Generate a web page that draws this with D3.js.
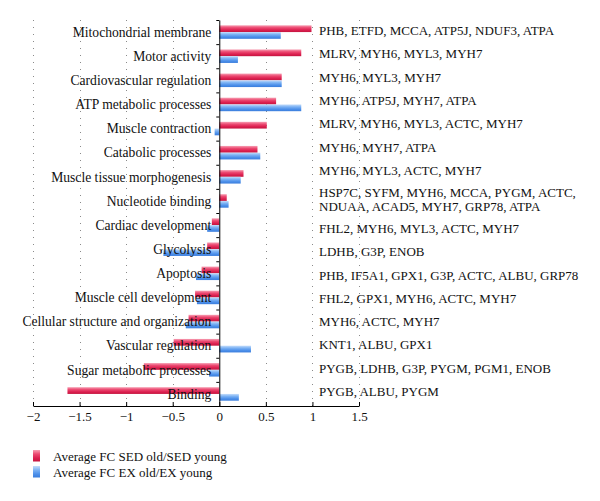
<!DOCTYPE html>
<html>
<head>
<meta charset="utf-8">
<script src="https://cdn.jsdelivr.net/npm/d3@7"></script>
<style>
  html, body { margin: 0; padding: 0; background: #fff; }
  svg { display: block; }
  text { font-family: "Liberation Serif", "DejaVu Serif", serif; fill: #111; }
</style>
</head>
<body>
<svg id="chart" width="600" height="501"></svg>
<script>
// ---- data ----
const categories = [
  "Mitochondrial membrane", "Motor activity", "Cardiovascular regulation",
  "ATP metabolic processes", "Muscle contraction", "Catabolic processes",
  "Muscle tissue morphogenesis", "Nucleotide binding", "Cardiac development",
  "Glycolysis", "Apoptosis", "Muscle cell development",
  "Cellular structure and organization", "Vascular regulation",
  "Sugar metabolic processes", "Binding"
];
const sedValues = [0.99, 0.88, 0.67, 0.61, 0.51, 0.41, 0.26, 0.08, -0.08, -0.13, -0.19, -0.26, -0.33, -0.49, -0.81, -1.63];
const exValues  = [0.66, 0.20, 0.67, 0.88, -0.05, 0.44, 0.23, 0.10, -0.13, -0.60, -0.25, -0.24, -0.36, 0.34, -0.11, 0.21];
const geneLabels = [
  ["PHB, ETFD, MCCA, ATP5J, NDUF3, ATPA"],
  ["MLRV, MYH6, MYL3, MYH7"],
  ["MYH6, MYL3, MYH7"],
  ["MYH6, ATP5J, MYH7, ATPA"],
  ["MLRV, MYH6, MYL3, ACTC, MYH7"],
  ["MYH6, MYH7, ATPA"],
  ["MYH6, MYL3, ACTC, MYH7"],
  ["HSP7C, SYFM, MYH6, MCCA, PYGM, ACTC,", "NDUAA, ACAD5, MYH7, GRP78, ATPA"],
  ["FHL2, MYH6, MYL3, ACTC, MYH7"],
  ["LDHB, G3P, ENOB"],
  ["PHB, IF5A1, GPX1, G3P, ACTC, ALBU, GRP78"],
  ["FHL2, GPX1, MYH6, ACTC, MYH7"],
  ["MYH6, ACTC, MYH7"],
  ["KNT1, ALBU, GPX1"],
  ["PYGB, LDHB, G3P, PYGM, PGM1, ENOB"],
  ["PYGB, ALBU, PYGM"]
];
const xTickValues = [-2, -1.5, -1, -0.5, 0, 0.5, 1, 1.5];
const xTickLabels = ["\u22122", "\u22121.5", "\u22121", "\u22120.5", "0", "0.5", "1", "1.5"];
const seriesNames = ["Average FC SED old/SED young", "Average FC EX old/EX young"];

// ---- layout ----
const svg = d3.select("#chart");
const plotTop = 20, plotBottom = 406;
const x = d3.scaleLinear().domain([-2, 1.5]).range([33, 359]);
const y = d3.scaleBand().domain(categories).range([plotTop, plotBottom]);
const bandH = y.bandwidth();
const barH = bandH * 0.28;

// gradients
const defs = svg.append("defs");
function grad(id, stops) {
  const g = defs.append("linearGradient").attr("id", id)
    .attr("x1", 0).attr("y1", 0).attr("x2", 0).attr("y2", 1);
  stops.forEach(s => g.append("stop").attr("offset", s[0]).attr("stop-color", s[1]));
}
grad("gRed", [[0, "#f7a0b4"], [0.35, "#ec4a72"], [0.7, "#dc2050"], [1, "#c4163f"]]);
grad("gBlue", [[0, "#c4ddfb"], [0.35, "#7cb2f4"], [0.7, "#4d90ea"], [1, "#3a7ddc"]]);

// gridlines
svg.append("g").selectAll("line")
  .data(xTickValues.filter(v => v !== 0))
  .join("line")
  .attr("x1", d => Math.round(x(d)) + 0.5).attr("x2", d => Math.round(x(d)) + 0.5)
  .attr("y1", plotTop).attr("y2", plotBottom)
  .attr("stroke", "#8a8a8a").attr("stroke-width", 1)
  .attr("stroke-dasharray", "1,6");

// bars
const bars = svg.append("g");
bars.selectAll("rect.sed").data(categories).join("rect")
  .attr("class", "sed")
  .attr("x", (d, i) => x(Math.min(0, sedValues[i])))
  .attr("width", (d, i) => Math.abs(x(sedValues[i]) - x(0)))
  .attr("y", d => y(d) + bandH / 2 - barH)
  .attr("height", barH)
  .attr("fill", "url(#gRed)");
bars.selectAll("rect.ex").data(categories).join("rect")
  .attr("class", "ex")
  .attr("x", (d, i) => x(Math.min(0, exValues[i])))
  .attr("width", (d, i) => Math.abs(x(exValues[i]) - x(0)))
  .attr("y", d => y(d) + bandH / 2)
  .attr("height", barH)
  .attr("fill", "url(#gBlue)");

// x axis
const xAxis = d3.axisBottom(x)
  .tickValues(xTickValues)
  .tickFormat((d, i) => xTickLabels[i])
  .tickSizeInner(-4).tickSizeOuter(0).tickPadding(6);
const gx = svg.append("g").attr("transform", `translate(0,${plotBottom})`).call(xAxis);
gx.select(".domain").attr("stroke", "#000");
gx.selectAll(".tick line").attr("stroke", "#000");
gx.selectAll("text").style("font-size", "13px").attr("fill", "#111")
  .style("font-family", '"Liberation Serif", serif');

// y axis (ticks at band boundaries)
const yEdge = d3.scaleLinear().domain([0, categories.length]).range([plotTop, plotBottom]);
const yAxis = d3.axisLeft(yEdge).tickValues(d3.range(0, categories.length + 1))
  .tickFormat("").tickSizeInner(3).tickSizeOuter(0);
const gy = svg.append("g").attr("transform", `translate(${x(0)},0)`).call(yAxis);
gy.select(".domain").attr("stroke", "#000");
gy.selectAll(".tick line").attr("stroke", "#000");

// category labels
svg.append("g").selectAll("text").data(categories).join("text")
  .attr("x", x(0) - 8)
  .attr("y", d => y(d) + bandH / 2)
  .attr("dy", "0.35em")
  .attr("text-anchor", "end")
  .style("font-size", "13.6px")
  .text(d => d);

// gene labels (text column; two-line row takes 1.5 row units)
const units = [];
let cum = 0;
geneLabels.forEach(g => { const h = g.length > 1 ? 1.5 : 1; units.push(cum + h / 2); cum += h; });
const gy2 = d3.scaleLinear().domain([0, cum]).range([19, 403]);
const lineH = 14.6;
const gl = svg.append("g");
geneLabels.forEach((lines, i) => {
  const cy = gy2(units[i]);
  lines.forEach((ln, j) => {
    gl.append("text")
      .attr("x", 319)
      .attr("y", cy + (j - (lines.length - 1) / 2) * lineH)
      .attr("dy", "0.35em")
      .style("font-size", "13px")
      .text(ln);
  });
});

// legend
const leg = svg.append("g").attr("transform", "translate(33,450)");
seriesNames.forEach((name, i) => {
  const r = leg.append("g").attr("transform", `translate(0,${i * 16})`);
  r.append("rect").attr("width", 7).attr("height", 11.5)
    .attr("fill", i === 0 ? "url(#gRed)" : "url(#gBlue)");
  r.append("text").attr("x", 20).attr("y", 6).attr("dy", "0.35em")
    .style("font-size", "13px").text(name);
});
</script>
</body>
</html>
